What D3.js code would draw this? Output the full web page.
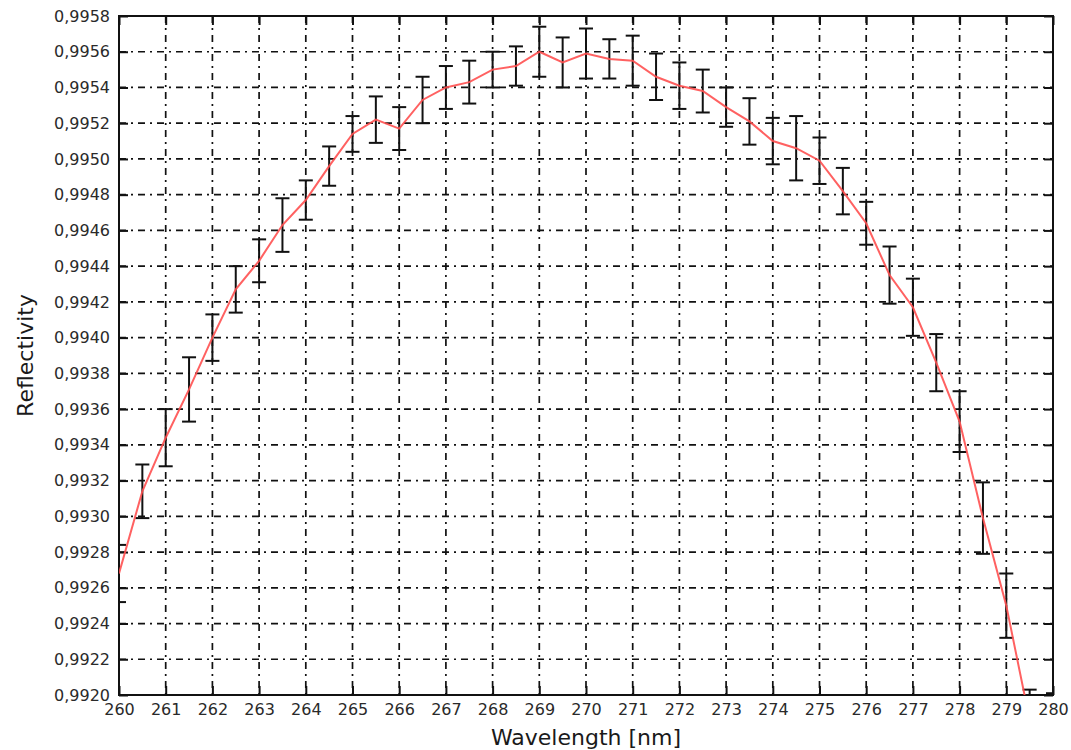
<!DOCTYPE html>
<html>
<head>
<meta charset="utf-8">
<script src="https://cdn.jsdelivr.net/npm/d3@7"></script>
<style>
  body { margin: 0; background: #fff; }
  text { font-family: "DejaVu Sans", sans-serif; }
</style>
</head>
<body>
<div id="container"></div>
<script>
const width = 1071;
const height = 750;
const margin = { top: 16, right: 18, bottom: 55, left: 119 };

// wavelength [nm], measured reflectivity and error (half bar length)
const wavelength = [260, 260.5, 261, 261.5, 262, 262.5, 263, 263.5, 264, 264.5,
  265, 265.5, 266, 266.5, 267, 267.5, 268, 268.5, 269, 269.5,
  270, 270.5, 271, 271.5, 272, 272.5, 273, 273.5, 274, 274.5,
  275, 275.5, 276, 276.5, 277, 277.5, 278, 278.5, 279, 279.5, 280];
const reflectivity = [0.99268, 0.99314, 0.99344, 0.99371, 0.99400, 0.99427, 0.99443, 0.99463, 0.99477, 0.99496,
  0.99514, 0.99522, 0.99517, 0.99533, 0.99540, 0.99543, 0.99550, 0.99552, 0.99560, 0.99554,
  0.99559, 0.99556, 0.99555, 0.99546, 0.99541, 0.99538, 0.99529, 0.99521, 0.99510, 0.99506,
  0.99499, 0.99482, 0.99464, 0.99435, 0.99417, 0.99386, 0.99353, 0.99299, 0.99250, 0.99186, 0.99175];
const errors = [0.00016, 0.00015, 0.00016, 0.00018, 0.00013, 0.00013, 0.00012, 0.00015, 0.00011, 0.00011,
  0.00010, 0.00013, 0.00012, 0.00013, 0.00012, 0.00012, 0.00010, 0.00011, 0.00014, 0.00014,
  0.00014, 0.00011, 0.00014, 0.00013, 0.00013, 0.00012, 0.00011, 0.00013, 0.00013, 0.00018,
  0.00013, 0.00013, 0.00012, 0.00016, 0.00016, 0.00016, 0.00017, 0.00020, 0.00018, 0.00017, 0.00026];

const xTicks = [260, 261, 262, 263, 264, 265, 266, 267, 268, 269, 270,
  271, 272, 273, 274, 275, 276, 277, 278, 279, 280];
const yTicks = [0.9920, 0.9922, 0.9924, 0.9926, 0.9928, 0.9930, 0.9932, 0.9934, 0.9936, 0.9938,
  0.9940, 0.9942, 0.9944, 0.9946, 0.9948, 0.9950, 0.9952, 0.9954, 0.9956, 0.9958];

const data = wavelength.map((w, i) => ({ w: w, r: reflectivity[i], e: errors[i] }));

const plotW = width - margin.left - margin.right;
const plotH = height - margin.top - margin.bottom;

const x = d3.scaleLinear().domain([260, 280]).range([0, plotW]);
const y = d3.scaleLinear().domain([0.9920, 0.9958]).range([plotH, 0]);

const fmt = d3.formatLocale({ decimal: ",", thousands: ".", grouping: [3], currency: ["", ""] }).format(".4f");

const svg = d3.select("#container")
  .append("svg")
  .attr("width", width)
  .attr("height", height);

svg.append("defs").append("clipPath")
  .attr("id", "plotclip")
  .append("rect")
  .attr("width", plotW)
  .attr("height", plotH);

const g = svg.append("g")
  .attr("transform", `translate(${margin.left},${margin.top})`);

// dash-dot grid
const dash = "7,5,2,5";
g.append("g")
  .selectAll("line")
  .data(xTicks.slice(1, -1))
  .enter()
  .append("line")
  .attr("x1", d => x(d)).attr("x2", d => x(d))
  .attr("y1", 0).attr("y2", plotH)
  .attr("stroke", "#111")
  .attr("stroke-width", 1.7)
  .attr("stroke-dasharray", dash);

g.append("g")
  .selectAll("line")
  .data(yTicks.slice(1, -1))
  .enter()
  .append("line")
  .attr("x1", 0).attr("x2", plotW)
  .attr("y1", d => y(d)).attr("y2", d => y(d))
  .attr("stroke", "#111")
  .attr("stroke-width", 1.7)
  .attr("stroke-dasharray", dash);

// axes with inward ticks
const tickLen = 9;
const xAxis = g.append("g")
  .attr("transform", `translate(0,${plotH})`)
  .call(d3.axisBottom(x).tickValues(xTicks).tickFormat(d3.format("d")).tickSizeInner(-tickLen).tickSizeOuter(0).tickPadding(9));
const xAxisTop = g.append("g")
  .call(d3.axisTop(x).tickValues(xTicks).tickFormat("").tickSizeInner(-tickLen).tickSizeOuter(0));
const yAxis = g.append("g")
  .call(d3.axisLeft(y).tickValues(yTicks).tickFormat(fmt).tickSizeInner(-tickLen).tickSizeOuter(0).tickPadding(9));
const yAxisRight = g.append("g")
  .attr("transform", `translate(${plotW},0)`)
  .call(d3.axisRight(y).tickValues(yTicks).tickFormat("").tickSizeInner(-tickLen).tickSizeOuter(0));

[xAxis, xAxisTop, yAxis, yAxisRight].forEach(a => {
  a.select(".domain").remove();
  a.selectAll(".tick line").attr("stroke", "#111").attr("stroke-width", 2);
  a.selectAll(".tick text")
    .attr("fill", "#2a2a2a")
    .style("font-family", "'DejaVu Sans', sans-serif")
    .style("font-size", "16px");
});

// frame
g.append("rect")
  .attr("width", plotW)
  .attr("height", plotH)
  .attr("fill", "none")
  .attr("stroke", "#111")
  .attr("stroke-width", 2);

const inner = g.append("g").attr("clip-path", "url(#plotclip)");

// error bars
const capW = 7;
const bars = inner.append("g")
  .attr("stroke", "#111")
  .attr("stroke-width", 2)
  .selectAll("g")
  .data(data)
  .enter()
  .append("g");

bars.append("line")
  .attr("x1", d => x(d.w)).attr("x2", d => x(d.w))
  .attr("y1", d => y(d.r + d.e)).attr("y2", d => y(d.r - d.e));
bars.append("line")
  .attr("x1", d => x(d.w) - capW).attr("x2", d => x(d.w) + capW)
  .attr("y1", d => y(d.r + d.e)).attr("y2", d => y(d.r + d.e));
bars.append("line")
  .attr("x1", d => x(d.w) - capW).attr("x2", d => x(d.w) + capW)
  .attr("y1", d => y(d.r - d.e)).attr("y2", d => y(d.r - d.e));

// red curve
inner.append("path")
  .datum(data)
  .attr("fill", "none")
  .attr("stroke", "#ff5050")
  .attr("stroke-opacity", 0.9)
  .attr("stroke-width", 2)
  .attr("d", d3.line().x(d => x(d.w)).y(d => y(d.r)));

// axis titles
svg.append("text")
  .attr("x", margin.left + plotW / 2)
  .attr("y", 745)
  .attr("text-anchor", "middle")
  .attr("fill", "#1a1a1a")
  .style("font-size", "22px")
  .text("Wavelength [nm]");

svg.append("text")
  .attr("transform", `translate(33,${margin.top + plotH / 2}) rotate(-90)`)
  .attr("text-anchor", "middle")
  .attr("fill", "#1a1a1a")
  .style("font-size", "22px")
  .text("Reflectivity");
</script>
</body>
</html>
